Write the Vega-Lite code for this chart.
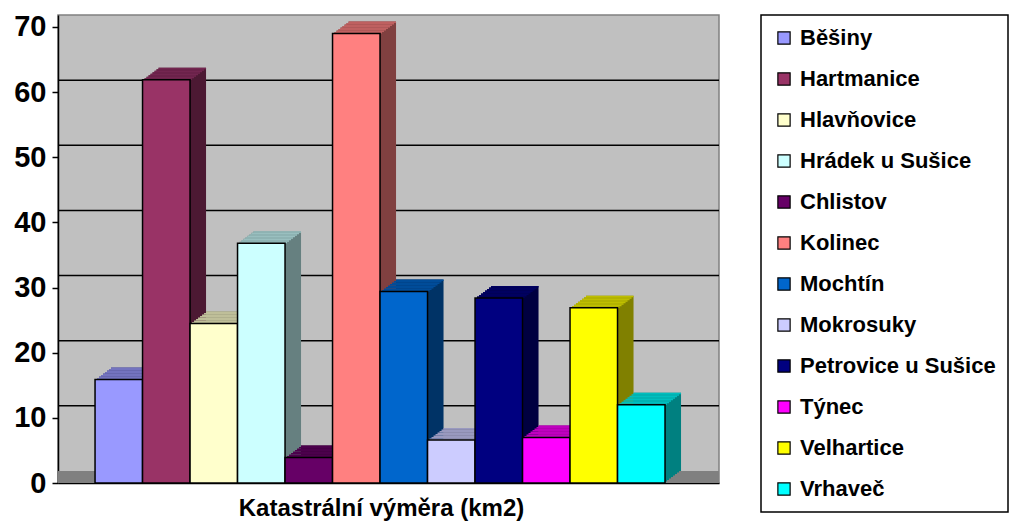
{
  "$schema": "https://vega.github.io/schema/vega-lite/v6.json",
  "autosize": {"type": "none"},
  "padding": {"left": 58, "top": 15, "right": 310, "bottom": 42},
  "width": 661,
  "height": 468,
  "background": "white",
  "datasets": {
    "obce": [
      {"obec": "Běšiny", "vymera": 15.9},
      {"obec": "Hartmanice", "vymera": 61.9},
      {"obec": "Hlavňovice", "vymera": 24.5},
      {"obec": "Hrádek u Sušice", "vymera": 36.8},
      {"obec": "Chlistov", "vymera": 3.9},
      {"obec": "Kolinec", "vymera": 69.0},
      {"obec": "Mochtín", "vymera": 29.4},
      {"obec": "Mokrosuky", "vymera": 6.6},
      {"obec": "Petrovice u Sušice", "vymera": 28.4},
      {"obec": "Týnec", "vymera": 7.0},
      {"obec": "Velhartice", "vymera": 26.9},
      {"obec": "Vrhaveč", "vymera": 12.0}
    ],
    "grid": [{"v": 10}, {"v": 20}, {"v": 30}, {"v": 40}, {"v": 50}, {"v": 60}]
  },
  "layer": [
    {
      "data": {"name": "obce"},
      "mark": {"type": "rule", "color": "#808080", "strokeWidth": 12, "yOffset": -6},
      "encoding": {
        "y": {"datum": 0, "type": "quantitative", "scale": {"domain": [0, 71.84], "nice": false, "zero": true}, "axis": {"values": [0, 10, 20, 30, 40, 50, 60, 70], "title": null}}
      }
    },
    {
      "data": {"name": "grid"},
      "mark": {"type": "rule", "color": "black", "strokeWidth": 1.5, "yOffset": -12},
      "encoding": {
        "y": {"field": "v", "type": "quantitative", "scale": {"domain": [0, 71.84], "nice": false, "zero": true}, "axis": {"values": [0, 10, 20, 30, 40, 50, 60, 70], "title": null}}
      }
    },
    {
      "data": {"name": "obce"},
      "layer": [
        {"mark": {"type": "bar", "xOffset": 2, "x2Offset": 2, "yOffset": -1.5, "y2Offset": -1.5}},
        {"mark": {"type": "bar", "xOffset": 4, "x2Offset": 4, "yOffset": -3, "y2Offset": -3}},
        {"mark": {"type": "bar", "xOffset": 6, "x2Offset": 6, "yOffset": -4.5, "y2Offset": -4.5}},
        {"mark": {"type": "bar", "xOffset": 8, "x2Offset": 8, "yOffset": -6, "y2Offset": -6}},
        {"mark": {"type": "bar", "xOffset": 10, "x2Offset": 10, "yOffset": -7.5, "y2Offset": -7.5}},
        {"mark": {"type": "bar", "xOffset": 12, "x2Offset": 12, "yOffset": -9, "y2Offset": -9}},
        {"mark": {"type": "bar", "xOffset": 14, "x2Offset": 14, "yOffset": -10.5, "y2Offset": -10.5}},
        {"mark": {"type": "bar", "xOffset": 16, "x2Offset": 16, "yOffset": -12, "y2Offset": -12}}
      ],
      "encoding": {
        "x": {"field": "obec", "type": "nominal", "sort": null, "scale": {"paddingInner": 0, "paddingOuter": 0.958, "align": 0.407}, "axis": {"labels": false, "ticks": false, "title": "Katastrální výměra (km2)", "titleX": 323}},
        "y": {"field": "vymera", "type": "quantitative", "scale": {"domain": [0, 71.84], "nice": false, "zero": true}, "axis": {"values": [0, 10, 20, 30, 40, 50, 60, 70], "title": null}},
        "color": {"field": "obec", "type": "nominal", "sort": null, "legend": null,
          "scale": {"domain": ["Běšiny", "Hartmanice", "Hlavňovice", "Hrádek u Sušice", "Chlistov", "Kolinec", "Mochtín", "Mokrosuky", "Petrovice u Sušice", "Týnec", "Velhartice", "Vrhaveč"],
            "range": ["#4C4C80", "#4C1933", "#808066", "#668080", "#330033", "#804040", "#003366", "#666680", "#000040", "#800080", "#808000", "#008080"]}}
      }
    },
    {
      "data": {"name": "obce"},
      "layer": [
        {"mark": {"type": "bar", "xOffset": 2, "x2Offset": 2, "yOffset": -1.5, "y2Offset": 0}},
        {"mark": {"type": "bar", "xOffset": 4, "x2Offset": 4, "yOffset": -3, "y2Offset": -1.5}},
        {"mark": {"type": "bar", "xOffset": 6, "x2Offset": 6, "yOffset": -4.5, "y2Offset": -3}},
        {"mark": {"type": "bar", "xOffset": 8, "x2Offset": 8, "yOffset": -6, "y2Offset": -4.5}},
        {"mark": {"type": "bar", "xOffset": 10, "x2Offset": 10, "yOffset": -7.5, "y2Offset": -6}},
        {"mark": {"type": "bar", "xOffset": 12, "x2Offset": 12, "yOffset": -9, "y2Offset": -7.5}},
        {"mark": {"type": "bar", "xOffset": 14, "x2Offset": 14, "yOffset": -10.5, "y2Offset": -9}},
        {"mark": {"type": "bar", "xOffset": 16, "x2Offset": 16, "yOffset": -12, "y2Offset": -10.5}}
      ],
      "encoding": {
        "x": {"field": "obec", "type": "nominal", "sort": null, "scale": {"paddingInner": 0, "paddingOuter": 0.958, "align": 0.407}, "axis": {"labels": false, "ticks": false, "title": "Katastrální výměra (km2)", "titleX": 323}},
        "y": {"field": "vymera", "type": "quantitative", "scale": {"domain": [0, 71.84], "nice": false, "zero": true}, "axis": {"values": [0, 10, 20, 30, 40, 50, 60, 70], "title": null}},
        "y2": {"field": "vymera"},
        "color": {"field": "obec", "type": "nominal", "sort": null, "legend": null,
          "scale": {"domain": ["Běšiny", "Hartmanice", "Hlavňovice", "Hrádek u Sušice", "Chlistov", "Kolinec", "Mochtín", "Mokrosuky", "Petrovice u Sušice", "Týnec", "Velhartice", "Vrhaveč"],
            "range": ["#7373BF", "#732650", "#BFBF99", "#99BFBF", "#4C004C", "#BF6060", "#004C99", "#9999BF", "#000060", "#BF00BF", "#BFBF00", "#00BFBF"]}}
      }
    },
    {
      "data": {"name": "obce"},
      "mark": {"type": "bar", "stroke": "black", "strokeWidth": 1.5},
      "encoding": {
        "x": {"field": "obec", "type": "nominal", "sort": null, "scale": {"paddingInner": 0, "paddingOuter": 0.958, "align": 0.407}, "axis": {"labels": false, "ticks": false, "title": "Katastrální výměra (km2)", "titleX": 323}},
        "y": {"field": "vymera", "type": "quantitative", "scale": {"domain": [0, 71.84], "nice": false, "zero": true}, "axis": {"values": [0, 10, 20, 30, 40, 50, 60, 70], "title": null}},
        "color": {"field": "obec", "type": "nominal", "sort": null,
          "scale": {"domain": ["Běšiny", "Hartmanice", "Hlavňovice", "Hrádek u Sušice", "Chlistov", "Kolinec", "Mochtín", "Mokrosuky", "Petrovice u Sušice", "Týnec", "Velhartice", "Vrhaveč"],
            "range": ["#9999FF", "#993366", "#FFFFCC", "#CCFFFF", "#660066", "#FF8080", "#0066CC", "#CCCCFF", "#000080", "#FF00FF", "#FFFF00", "#00FFFF"]},
          "legend": {"orient": "none", "legendX": 703, "legendY": 0, "title": null, "symbolType": "square", "symbolSize": 150, "symbolStrokeColor": "black", "symbolStrokeWidth": 1.2, "labelFont": "Liberation Sans", "labelFontSize": 22, "labelFontWeight": "bold", "labelColor": "black", "labelOffset": 5, "labelLimit": 400, "rowPadding": 19, "padding": 12, "strokeColor": "black"}}
      }
    }
  ],
  "resolve": {"scale": {"color": "independent"}},
  "config": {
    "view": {"fill": "#C0C0C0", "stroke": "#808080", "strokeWidth": 1.5},
    "legend": {"strokeWidth": 1.5},
    "axis": {
      "labelFont": "Liberation Sans", "titleFont": "Liberation Sans",
      "labelFontWeight": "bold", "titleFontWeight": "bold",
      "labelColor": "black", "titleColor": "black",
      "domainColor": "black", "domainWidth": 1.5,
      "tickColor": "black", "tickWidth": 1.5, "grid": false
    },
    "axisY": {"labelFontSize": 29, "tickSize": 6, "labelPadding": 6},
    "axisX": {"titleFontSize": 24, "titlePadding": 13}
  }
}
